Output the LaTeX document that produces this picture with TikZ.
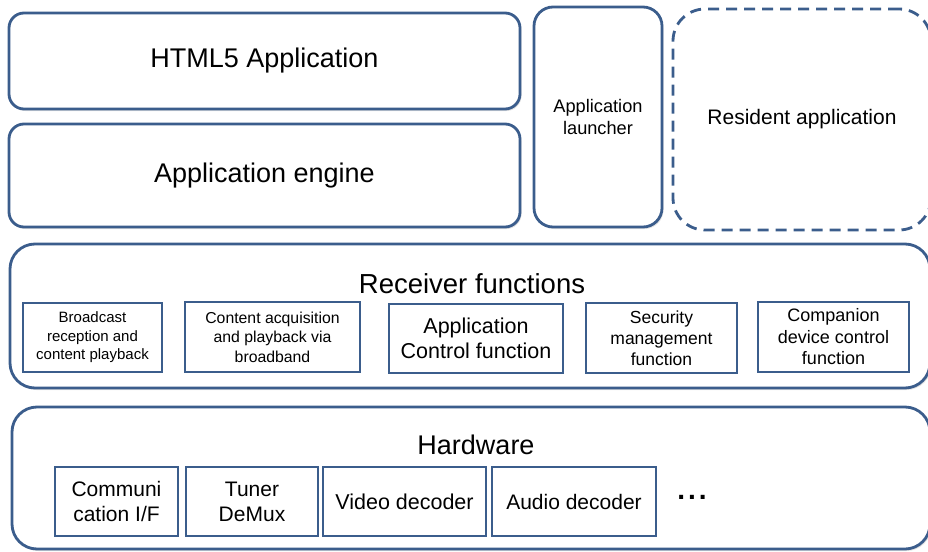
\documentclass[tikz,border=0pt]{standalone}
\usepackage{fontspec}
\setmainfont{Liberation Sans}
\usetikzlibrary{shadows}
\definecolor{edge}{HTML}{3B5D8C}
\newcommand\fsz[2]{\fontsize{#1}{#2}\selectfont}
\tikzset{
  layer/.style={draw=edge, line width=2.8pt, rounded corners=#1, fill=white,
    drop shadow={shadow xshift=1.5pt, shadow yshift=-2pt, opacity=0.22},
    inner sep=0pt, align=center},
  dashlayer/.style={draw=edge, line width=2.8pt, rounded corners=#1,
    dash pattern=on 11pt off 7pt, inner sep=0pt, align=center},
  unit/.style={draw=edge, line width=2.5pt, fill=white, inner sep=0pt, align=center},
  title/.style={inner sep=0pt, align=center}
}
\begin{document}
\begin{tikzpicture}[x=1pt,y=-1pt]
\useasboundingbox (0,0) rectangle (928,551);
% top row
\node[layer=15pt, minimum width=511pt, minimum height=96pt, font=\fsz{27}{31}] (html) at (264.5,61) {HTML5 Application};
\node[layer=15pt, minimum width=511pt, minimum height=103pt, font=\fsz{27}{31}] (engine) at (264.5,175.5) {Application engine};
\node[layer=19pt, minimum width=128pt, minimum height=220pt, font=\fsz{18.2}{22}] (launcher) at (598,117) {Application\\launcher};
\node[dashlayer=32pt, minimum width=258pt, minimum height=221pt, font=\fsz{21}{25}] (resident) at (802,119.5) {Resident application};
% receiver functions
\node[layer=25pt, minimum width=920pt, minimum height=144pt] (receiver) at (470,316) {};
\node[title, font=\fsz{27.5}{31}] (rtitle) at (472,284) {Receiver functions};
\node[unit, minimum width=139pt, minimum height=69pt, font=\fsz{15}{18.5}] (bcast) at (92.5,337.5) {Broadcast\\reception and\\content playback};
\node[unit, minimum width=175pt, minimum height=70pt, font=\fsz{15.8}{19.5}] (content) at (272.5,337) {Content acquisition\\and playback via\\broadband};
\node[unit, minimum width=174pt, minimum height=69pt, font=\fsz{21.5}{25}] (appctrl) at (476,338.5) {Application\\Control function};
\node[unit, minimum width=151pt, minimum height=70pt, font=\fsz{17.5}{21}] (security) at (661.5,338) {Security\\management\\function};
\node[unit, minimum width=151pt, minimum height=70pt, font=\fsz{18}{21.5}] (companion) at (833.5,337) {Companion\\device control\\function};
% hardware
\node[layer=25pt, minimum width=918pt, minimum height=142pt] (hardware) at (471,478) {};
\node[title, font=\fsz{27}{31}] (htitle) at (476,445) {Hardware};
\node[unit, minimum width=123pt, minimum height=69pt, font=\fsz{21}{25}] (comm) at (116.5,501.5) {Communi\\cation I/F};
\node[unit, minimum width=132pt, minimum height=69pt, font=\fsz{21}{25}] (tuner) at (252,501.5) {Tuner\\DeMux};
\node[unit, minimum width=163pt, minimum height=69pt, font=\fsz{21.5}{25}] (video) at (404.5,501.5) {Video decoder};
\node[unit, minimum width=164pt, minimum height=69pt, font=\fsz{21}{25}] (audio) at (574,501.5) {Audio decoder};
\node[title, font=\fsz{28}{30}\bfseries] (dots) at (692,497) {.\kern3pt.\kern3pt.};
\end{tikzpicture}
\end{document}
